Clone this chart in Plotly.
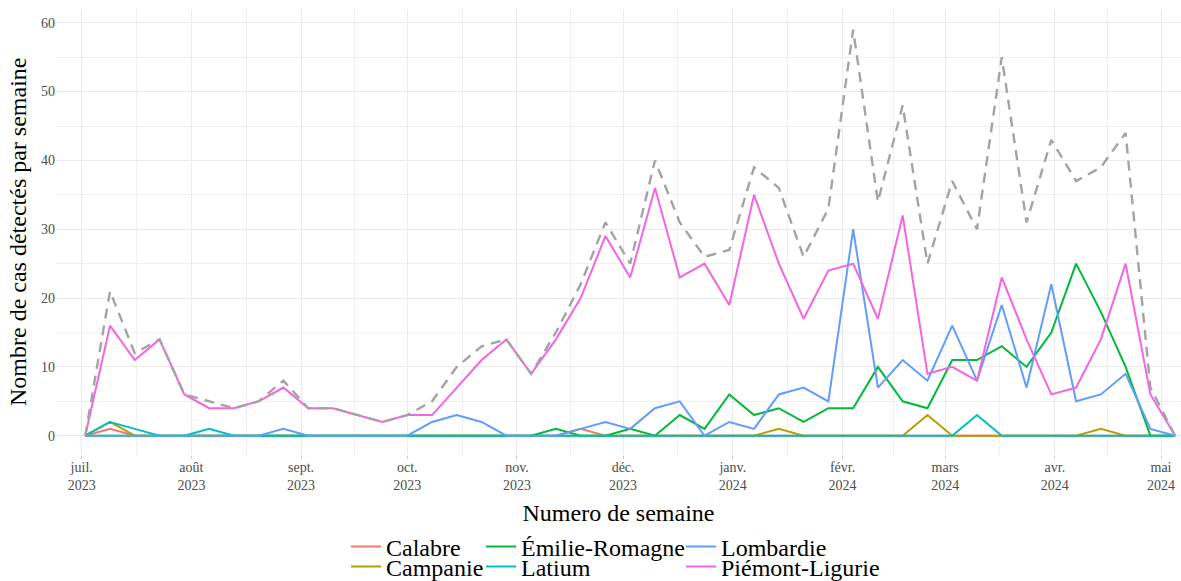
import plotly.graph_objects as go
import pandas as pd

# ---- data -------------------------------------------------------------
weeks = [
    "2023-07-02", "2023-07-09", "2023-07-16", "2023-07-23", "2023-07-30",
    "2023-08-06", "2023-08-13", "2023-08-20", "2023-08-27",
    "2023-09-03", "2023-09-10", "2023-09-17", "2023-09-24",
    "2023-10-01", "2023-10-08", "2023-10-15", "2023-10-22", "2023-10-29",
    "2023-11-05", "2023-11-12", "2023-11-19", "2023-11-26",
    "2023-12-03", "2023-12-10", "2023-12-17", "2023-12-24", "2023-12-31",
    "2024-01-07", "2024-01-14", "2024-01-21", "2024-01-28",
    "2024-02-04", "2024-02-11", "2024-02-18", "2024-02-25",
    "2024-03-03", "2024-03-10", "2024-03-17", "2024-03-24", "2024-03-31",
    "2024-04-07", "2024-04-14", "2024-04-21", "2024-04-28",
    "2024-05-05",
]

calabre = [0, 1, 0, 0, 0, 0, 0, 0, 0, 0, 0, 0, 0, 0, 0, 0, 0, 0, 0, 0, 1, 0, 0, 0, 0,
           0, 0, 0, 0, 0, 0, 0, 0, 0, 0, 0, 0, 0, 0, 0, 0, 0, 0, 0, 0]
campanie = [0, 2, 0, 0, 0, 0, 0, 0, 0, 0, 0, 0, 0, 0, 0, 0, 0, 0, 0, 0, 0, 0, 0, 0, 0,
            0, 0, 0, 1, 0, 0, 0, 0, 0, 3, 0, 0, 0, 0, 0, 0, 1, 0, 0, 0]
emilie = [0, 0, 0, 0, 0, 0, 0, 0, 0, 0, 0, 0, 0, 0, 0, 0, 0, 0, 0, 1, 0, 0, 1, 0, 3,
          1, 6, 3, 4, 2, 4, 4, 10, 5, 4, 11, 11, 13, 10, 15, 25, 18, 10, 0, 0]
latium = [0, 2, 1, 0, 0, 1, 0, 0, 0, 0, 0, 0, 0, 0, 0, 0, 0, 0, 0, 0, 0, 0, 0, 0, 0,
          0, 0, 0, 0, 0, 0, 0, 0, 0, 0, 0, 3, 0, 0, 0, 0, 0, 0, 0, 0]
lombardie = [0, 0, 0, 0, 0, 0, 0, 0, 1, 0, 0, 0, 0, 0, 2, 3, 2, 0, 0, 0, 1, 2, 1, 4, 5,
             0, 2, 1, 6, 7, 5, 30, 7, 11, 8, 16, 8, 19, 7, 22, 5, 6, 9, 1, 0]
piemont = [0, 16, 11, 14, 6, 4, 4, 5, 7, 4, 4, 3, 2, 3, 3, 7, 11, 14, 9, 14, 20, 29, 23, 36, 23,
           25, 19, 35, 25, 17, 24, 25, 17, 32, 9, 10, 8, 23, 14, 6, 7, 14, 25, 6, 0]
total = [0, 21, 12, 14, 6, 5, 4, 5, 8, 4, 4, 3, 2, 3, 5, 10, 13, 14, 9, 15, 22, 31, 25, 40, 31,
         26, 27, 39, 36, 26, 33, 59, 34, 48, 25, 37, 30, 55, 31, 43, 37, 39, 44, 7, 0]

region_names = ["Calabre", "Campanie", "Émilie-Romagne", "Latium", "Lombardie", "Piémont-Ligurie"]
region_values = [calabre, campanie, emilie, latium, lombardie, piemont]
region_colors = ["#F8766D", "#B79F00", "#00BA38", "#00BFC4", "#619CFF", "#F564E3"]

month_ticks = ["2023-07-01", "2023-08-01", "2023-09-01", "2023-10-01", "2023-11-01",
               "2023-12-01", "2024-01-01", "2024-02-01", "2024-03-01", "2024-04-01",
               "2024-05-01"]
month_labels = ["juil.<br>2023", "août<br>2023", "sept.<br>2023", "oct.<br>2023",
                "nov.<br>2023", "déc.<br>2023", "janv.<br>2024", "févr.<br>2024",
                "mars<br>2024", "avr.<br>2024", "mai<br>2024"]
y_ticks = [0, 10, 20, 30, 40, 50, 60]

x_title = "Numero de semaine"
y_title = "Nombre de cas détectés par semaine"

# ---- layout helpers -----------------------------------------------------
W, H = 1181, 581
FONT = "Liberation Serif, Times New Roman, serif"

mt = pd.to_datetime(month_ticks)
minor_x = [(mt[i] + (mt[i + 1] - mt[i]) / 2).strftime("%Y-%m-%d %H:%M") for i in range(len(mt) - 1)]

# legend slots (text start px, row centre px)
legend_pos = [(387, 547), (387, 567), (522, 547), (522, 567), (722, 547), (722, 567)]
legend_keys = ["legend", "legend2", "legend3", "legend4", "legend5", "legend6"]

fig = go.Figure()
for name, vals, col, lk in zip(region_names, region_values, region_colors, legend_keys):
    fig.add_trace(go.Scatter(
        x=weeks, y=vals, mode="lines", name=name,
        line=dict(color=col, width=2),
        legend=lk, showlegend=True,
    ))

fig.add_trace(go.Scatter(
    x=weeks, y=total, mode="lines", name="Total",
    line=dict(color="#A3A3A3", width=2.4, dash="10px,7px"),
    showlegend=False,
))

legends = {}
for lk, (tx, ty) in zip(legend_keys, legend_pos):
    legends[lk] = dict(
        xref="container", yref="container",
        x=(tx - 41) / W, y=1 - ty / H,
        xanchor="left", yanchor="middle",
        orientation="v",
        font=dict(family=FONT, size=24, color="#000000"),
        bgcolor="rgba(0,0,0,0)", borderwidth=0,
        itemclick=False, itemdoubleclick=False,
    )

fig.update_layout(
    width=W, height=H,
    margin=dict(l=56, r=0, t=8.5, b=125.7, autoexpand=False),
    plot_bgcolor="white", paper_bgcolor="white",
    font=dict(family=FONT, color="#000000"),
    **legends,
)

fig.update_xaxes(
    type="date",
    range=["2023-06-23 17:45", "2024-05-06 15:36"],
    tickmode="array", tickvals=month_ticks, ticktext=month_labels,
    tickfont=dict(family=FONT, size=14, color="#4D4D4D"),
    ticks="outside", ticklen=3, tickcolor="#C8C8C8", tickwidth=1,
    ticklabelstandoff=-4,
    showgrid=True, gridcolor="#EBEBEB", gridwidth=1.1,
    minor=dict(tickmode="array", tickvals=minor_x, showgrid=True,
               gridcolor="#F0F0F0", gridwidth=0.7),
    zeroline=False, showline=False,
    title=dict(text=x_title, font=dict(family=FONT, size=24, color="#000000"),
               standoff=12),
    automargin=True,
)

fig.update_yaxes(
    range=[-2.8, 62],
    tickmode="array", tickvals=y_ticks,
    tickfont=dict(family=FONT, size=14, color="#4D4D4D"),
    ticks="",
    showgrid=True, gridcolor="#EBEBEB", gridwidth=1.1,
    minor=dict(tickmode="array", tickvals=[5, 15, 25, 35, 45, 55], showgrid=True,
               gridcolor="#F0F0F0", gridwidth=0.7),
    zeroline=False, showline=False,
)

# y-axis title (placed as rotated text left of the tick labels)
fig.add_annotation(
    text=y_title, textangle=-90,
    xref="paper", yref="paper", x=-38 / 1125, y=0.5,
    xanchor="center", yanchor="middle", showarrow=False,
    font=dict(family=FONT, size=24, color="#000000"),
)

fig.write_html(
    "out.html",
    config={"displayModeBar": False},
    post_script="document.body.style.margin='0';document.body.style.padding='0';",
)
